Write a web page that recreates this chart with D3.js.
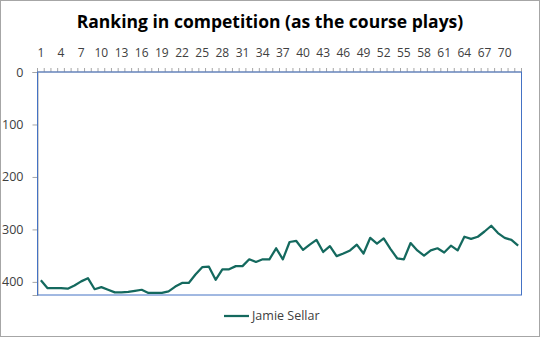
<!DOCTYPE html>
<html>
<head>
<meta charset="utf-8">
<script src="https://cdn.jsdelivr.net/npm/d3@7"></script>
<style>
  html, body { margin: 0; padding: 0; background: #fff; }
  svg { display: block; font-family: "Open Sans", "Noto Sans", sans-serif; }
</style>
</head>
<body>
<svg id="chart" width="540" height="337"></svg>
<script>
// Hole-by-hole ranking for one player (1 = leader), holes 1..72
const holes = d3.range(1, 73);
const ranking = [
  397, 412, 412, 412, 413, 407, 399, 393, 414, 410,
  415, 420, 420, 419, 417, 415, 421, 421, 421, 418,
  409, 402, 402, 386, 372, 371, 396, 376, 376, 370,
  370, 357, 362, 357, 357, 336, 357, 324, 322, 339,
  329, 320, 343, 332, 351, 346, 340, 329, 346, 316,
  327, 317, 337, 355, 357, 326, 340, 350, 340, 336,
  344, 331, 340, 314, 318, 314, 304, 293, 307, 316,
  320, 331
];
const seriesName = "Jamie Sellar";
const yTicks = [0, 100, 200, 300, 400];
const yMax = 425;
const xLabelStep = 3;

const W = 540, H = 337;
const plot = { left: 37.5, right: 521.5, top: 72, bottom: 295 };
const lineColor = "#14695e";
const textColor = "#404040";

const svg = d3.select("#chart");

// outer frame
svg.append("rect")
  .attr("x", 0.5).attr("y", 0.5)
  .attr("width", W - 1).attr("height", H - 1)
  .attr("fill", "#fff").attr("stroke", "#a6a6a6");

svg.append("text")
  .attr("x", 270).attr("y", 28)
  .attr("text-anchor", "middle")
  .attr("font-size", 17.5).attr("font-weight", "bold")
  .attr("fill", "#000")
  .text("Ranking in competition (as the course plays)");

const x = d3.scaleBand()
  .domain(holes)
  .range([plot.left, plot.right])
  .paddingInner(0).paddingOuter(0);

const y = d3.scaleLinear()
  .domain([0, yMax])
  .range([plot.top, plot.bottom]);

// top category axis: a minor tick at every category boundary
const xAxis = svg.append("g").attr("transform", `translate(0,${plot.top})`);
const boundaries = holes.map(h => x(h)).concat([x(holes[holes.length - 1]) + x.bandwidth()]);
xAxis.selectAll("line.tick")
  .data(boundaries)
  .join("line")
  .attr("class", "tick")
  .attr("x1", d => d).attr("x2", d => d)
  .attr("y1", 0).attr("y2", -4)
  .attr("stroke", "#a6a6a6").attr("stroke-width", 1);
xAxis.append("line")
  .attr("x1", plot.left).attr("x2", plot.right)
  .attr("y1", 0).attr("y2", 0)
  .attr("stroke", "#a6a6a6");
xAxis.selectAll("text")
  .data(holes.filter(h => (h - 1) % xLabelStep === 0))
  .join("text")
  .attr("x", d => x(d) + x.bandwidth() / 2)
  .attr("y", -15)
  .attr("text-anchor", "middle")
  .attr("font-size", 12)
  .attr("fill", textColor)
  .text(d => d);

// left value axis (reversed: rank 0 at the top)
const yAxis = svg.append("g").attr("transform", `translate(${plot.left},0)`)
  .call(d3.axisLeft(y).tickValues(yTicks).tickSize(5).tickPadding(9));
yAxis.select(".domain").attr("stroke", "#a6a6a6");
yAxis.selectAll(".tick line").attr("stroke", "#a6a6a6");
yAxis.selectAll(".tick text")
  .attr("font-size", 12.5)
  .attr("font-family", "\"Open Sans\", sans-serif")
  .attr("fill", textColor);

// plot area border
svg.append("rect")
  .attr("x", plot.left).attr("y", plot.top)
  .attr("width", plot.right - plot.left)
  .attr("height", plot.bottom - plot.top)
  .attr("fill", "none")
  .attr("stroke", "#4472c4").attr("stroke-width", 1);

const line = d3.line()
  .x((d, i) => x(holes[i]) + x.bandwidth() / 2)
  .y(d => y(d));

svg.append("path")
  .datum(ranking)
  .attr("d", line)
  .attr("fill", "none")
  .attr("stroke", lineColor)
  .attr("stroke-width", 2.25)
  .attr("stroke-linejoin", "round");

// legend
const lg = svg.append("g").attr("transform", "translate(224,316)");
lg.append("line")
  .attr("x1", 0).attr("x2", 25)
  .attr("stroke", lineColor).attr("stroke-width", 2.25);
lg.append("text")
  .attr("x", 28).attr("y", 0)
  .attr("dy", "0.35em")
  .attr("font-size", 12.5)
  .attr("fill", textColor)
  .text(seriesName);
</script>
</body>
</html>
